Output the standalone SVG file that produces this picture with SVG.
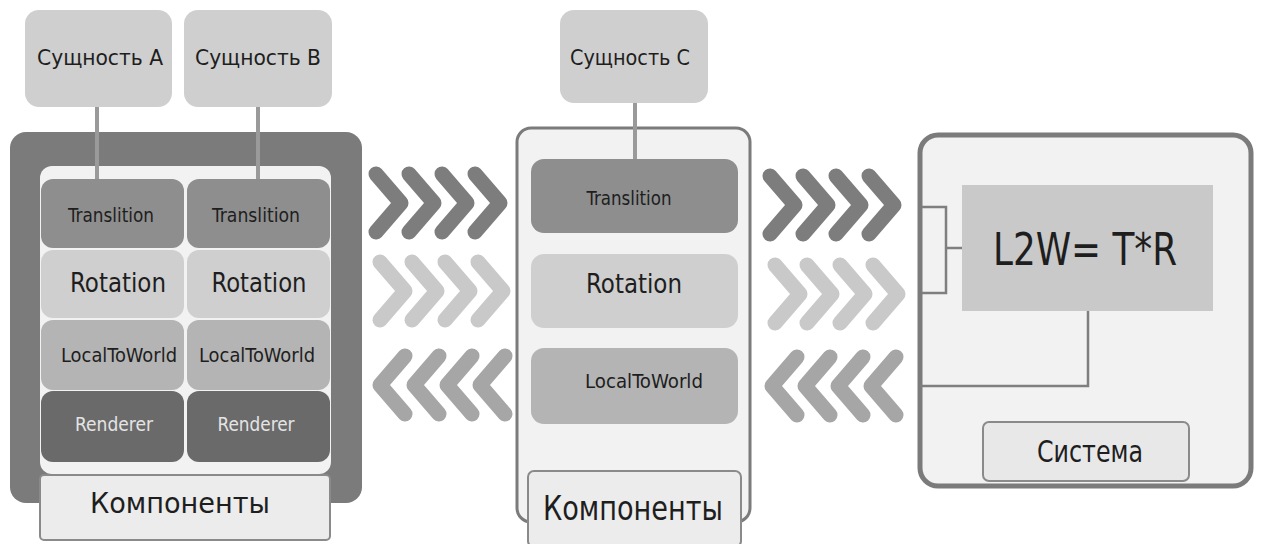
<svg xmlns="http://www.w3.org/2000/svg" xmlns:xlink="http://www.w3.org/1999/xlink" width="1262" height="544" viewBox="0 0 1262 544">
<style>
  text { font-family: "DejaVu Sans Condensed", "Liberation Sans Narrow", "DejaVu Sans", sans-serif; fill: #1e1e1e; text-anchor: middle; }
  .ent { fill: #cfcfcf; }
  .trans { fill: #8e8e8e; }
  .rot { fill: #cfcfcf; }
  .l2w { fill: #b4b4b4; }
  .rend { fill: #6a6a6a; }
  .comp { fill: #ececec; stroke: #8a8a8a; stroke-width: 2; }
  .wire { stroke: #9a9a9a; stroke-width: 4; fill: none; }
  .wire2 { stroke: #7f7f7f; stroke-width: 2.5; fill: none; }
  .g1 { stroke: #7d7d7d; }
  .g2 { stroke: #c9c9c9; }
  .g3 { stroke: #a6a6a6; }
</style>
<defs>
  <path id="chevR" d="M0 -29 L25 0 L0 29" fill="none" stroke-width="15" stroke-linecap="round" stroke-linejoin="round"/>
  <path id="chevL" d="M25 -29 L0 0 L25 29" fill="none" stroke-width="15" stroke-linecap="round" stroke-linejoin="round"/>
</defs>
<rect width="1262" height="544" fill="#ffffff"/>

<!-- Containers -->
<g id="frameAB">
  <rect x="10" y="132" width="352" height="371" rx="16" fill="#7b7b7b"/>
  <rect x="40" y="166" width="291" height="308" rx="12" fill="#f2f2f2"/>
</g>
<g id="frameC">
  <rect x="517" y="128" width="233" height="394" rx="14" fill="#f2f2f2" stroke="#7b7b7b" stroke-width="3"/>
</g>
<g id="systemFrame">
  <rect x="920" y="135" width="331" height="351" rx="18" fill="#f2f2f2" stroke="#7b7b7b" stroke-width="5"/>
</g>

<g id="connectors">
  <line class="wire" x1="97" y1="107" x2="97" y2="180"/>
  <line class="wire" x1="258" y1="107" x2="258" y2="180"/>
  <line class="wire" x1="635" y1="103" x2="635" y2="160"/>
  <polyline class="wire2" points="922,207 946,207 946,293 922,293"/>
  <line class="wire2" x1="946" y1="248" x2="962" y2="248"/>
  <polyline class="wire2" points="1088,311 1088,386 920,386"/>
</g>

<g id="entityA">
  <rect class="ent" x="25" y="10" width="147" height="97" rx="14"/>
  <text x="100" y="65" font-size="22" textLength="126" lengthAdjust="spacingAndGlyphs">Сущность А</text>
</g>
<g id="entityB">
  <rect class="ent" x="184" y="10" width="148" height="97" rx="14"/>
  <text x="258" y="65" font-size="22" textLength="126" lengthAdjust="spacingAndGlyphs">Сущность В</text>
</g>

<g id="cellsA">
  <rect class="trans" x="41" y="179" width="143" height="69" rx="12"/>
  <text x="111" y="222" font-size="19" textLength="86" lengthAdjust="spacingAndGlyphs">Translition</text>
  <rect class="rot" x="41" y="250" width="143" height="68" rx="12"/>
  <text x="118" y="292" font-size="27" textLength="96" lengthAdjust="spacingAndGlyphs">Rotation</text>
  <rect class="l2w" x="41" y="320" width="143" height="70" rx="12"/>
  <text x="119" y="362" font-size="20" textLength="116" lengthAdjust="spacingAndGlyphs">LocalToWorld</text>
  <rect class="rend" x="41" y="391" width="143" height="71" rx="12"/>
  <text x="114" y="431" font-size="19" textLength="78" lengthAdjust="spacingAndGlyphs" style="fill:#e4e4e4">Renderer</text>
</g>
<g id="cellsB">
  <rect class="trans" x="187" y="179" width="143" height="69" rx="12"/>
  <text x="256" y="222" font-size="19" textLength="88" lengthAdjust="spacingAndGlyphs">Translition</text>
  <rect class="rot" x="187" y="250" width="143" height="68" rx="12"/>
  <text x="259" y="292" font-size="27" textLength="95" lengthAdjust="spacingAndGlyphs">Rotation</text>
  <rect class="l2w" x="187" y="320" width="143" height="70" rx="12"/>
  <text x="257" y="362" font-size="20" textLength="116" lengthAdjust="spacingAndGlyphs">LocalToWorld</text>
  <rect class="rend" x="187" y="391" width="143" height="71" rx="12"/>
  <text x="256" y="431" font-size="19" textLength="77" lengthAdjust="spacingAndGlyphs" style="fill:#e4e4e4">Renderer</text>
</g>
<g id="compAB">
  <rect class="comp" x="40" y="475" width="290" height="65" rx="4"/>
  <text x="180" y="513" font-size="29" textLength="180" lengthAdjust="spacingAndGlyphs">Компоненты</text>
</g>

<g id="arrowsLeft">
  <use xlink:href="#chevR" class="g1" x="376" y="203"/>
  <use xlink:href="#chevR" class="g1" x="409" y="203"/>
  <use xlink:href="#chevR" class="g1" x="442" y="203"/>
  <use xlink:href="#chevR" class="g1" x="475" y="203"/>
  <use xlink:href="#chevR" class="g2" x="380" y="291"/>
  <use xlink:href="#chevR" class="g2" x="412" y="291"/>
  <use xlink:href="#chevR" class="g2" x="445" y="291"/>
  <use xlink:href="#chevR" class="g2" x="478" y="291"/>
  <use xlink:href="#chevL" class="g3" x="380" y="385"/>
  <use xlink:href="#chevL" class="g3" x="414" y="385"/>
  <use xlink:href="#chevL" class="g3" x="447" y="385"/>
  <use xlink:href="#chevL" class="g3" x="480" y="385"/>
</g>

<g id="entityC">
  <rect class="ent" x="560" y="10" width="148" height="93" rx="14"/>
  <text x="630" y="65" font-size="22" textLength="120" lengthAdjust="spacingAndGlyphs">Сущность С</text>
</g>
<g id="cellsC">
  <rect class="trans" x="531" y="159" width="207" height="74" rx="13"/>
  <text x="629" y="205" font-size="19" textLength="85" lengthAdjust="spacingAndGlyphs">Translition</text>
  <rect class="rot" x="531" y="254" width="207" height="74" rx="13"/>
  <text x="634" y="293" font-size="27" textLength="96" lengthAdjust="spacingAndGlyphs">Rotation</text>
  <rect class="l2w" x="531" y="348" width="207" height="76" rx="13"/>
  <text x="644" y="388" font-size="20" textLength="118" lengthAdjust="spacingAndGlyphs">LocalToWorld</text>
</g>
<g id="compC">
  <rect class="comp" x="528" y="471" width="213" height="76" rx="6"/>
  <text x="633" y="520" font-size="33" textLength="180" lengthAdjust="spacingAndGlyphs">Компоненты</text>
</g>

<g id="arrowsRight">
  <use xlink:href="#chevR" class="g1" x="770" y="205"/>
  <use xlink:href="#chevR" class="g1" x="803" y="205"/>
  <use xlink:href="#chevR" class="g1" x="836" y="205"/>
  <use xlink:href="#chevR" class="g1" x="869" y="205"/>
  <use xlink:href="#chevR" class="g2" x="775" y="294"/>
  <use xlink:href="#chevR" class="g2" x="807" y="294"/>
  <use xlink:href="#chevR" class="g2" x="840" y="294"/>
  <use xlink:href="#chevR" class="g2" x="873" y="294"/>
  <use xlink:href="#chevL" class="g3" x="772" y="386"/>
  <use xlink:href="#chevL" class="g3" x="805" y="386"/>
  <use xlink:href="#chevL" class="g3" x="838" y="386"/>
  <use xlink:href="#chevL" class="g3" x="871" y="386"/>
</g>

<g id="formula">
  <rect x="962" y="185" width="251" height="126" fill="#c9c9c9"/>
  <text x="1085" y="265" font-size="44" textLength="184" lengthAdjust="spacingAndGlyphs">L2W= T*R</text>
</g>
<g id="system">
  <rect x="983" y="422" width="206" height="59" rx="6" fill="#e8e8e8" stroke="#8a8a8a" stroke-width="2"/>
  <text x="1090" y="462" font-size="30" textLength="106" lengthAdjust="spacingAndGlyphs">Система</text>
</g>
</svg>
